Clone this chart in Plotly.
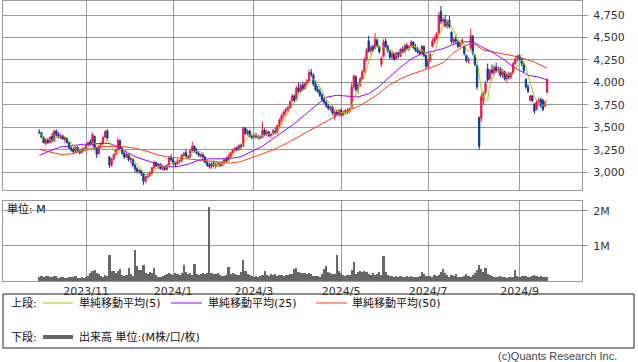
import pandas as pd
import plotly.graph_objects as go

# ---------------- data ----------------
holidays = ['2023-10-09', '2023-11-03', '2023-11-23', '2024-01-01', '2024-01-02', '2024-01-03',
            '2024-01-08', '2024-02-12', '2024-02-23', '2024-03-20', '2024-04-29', '2024-05-03',
            '2024-05-06', '2024-07-15', '2024-08-12', '2024-09-16']
dates = [d for d in pd.bdate_range('2023-09-29', '2024-09-20') if d.strftime('%Y-%m-%d') not in holidays]

open_ = [
    # Sep29-Oct
    3450, 3440, 3390, 3320, 3360, 3330, 3400, 3350, 3460, 3420, 3380, 3410, 3360, 3380, 3330, 3270, 3250, 3230, 3280, 3240, 3220, 3260,
    # Nov
    3250, 3300, 3340, 3300, 3400, 3270, 3210, 3290, 3320, 3390, 3460, 3170, 3080, 3150, 3200, 3250, 3350, 3270, 3210, 3170,
    # Dec
    3200, 3140, 3150, 3080, 3040, 3010, 3020, 2990, 2900, 2950, 2960, 2990, 3050, 3110, 3070, 3090, 3040, 3060, 3030, 3080, 3160,
    # Jan
    3140, 3100, 3090, 3130, 3120, 3190, 3220, 3180, 3170, 3240, 3290, 3240, 3210, 3180, 3200, 3170, 3110, 3080, 3060,
    # Feb
    3100, 3070, 3090, 3100, 3080, 3100, 3140, 3130, 3180, 3220, 3250, 3270, 3250, 3300, 3290, 3490, 3430, 3460, 3400,
    # Mar
    3400, 3410, 3390, 3400, 3390, 3470, 3420, 3450, 3410, 3430, 3460, 3440, 3520, 3580, 3630, 3670, 3700, 3720, 3800, 3850,
    # Apr
    3810, 3940, 3900, 3970, 3930, 3990, 4020, 4110, 4080, 3980, 3920, 3900, 3860, 3810, 3780, 3740, 3710, 3730, 3620, 3670, 3650,
    # May
    3690, 3640, 3670, 3680, 3670, 3720, 3950, 4060, 3920, 3970, 4040, 4120, 4250, 4460, 4350, 4400, 4380, 4470, 4400, 4200, 4290,
    # Jun
    4460, 4400, 4350, 4280, 4320, 4260, 4330, 4290, 4370, 4340, 4410, 4380, 4410, 4450, 4390, 4360, 4340, 4320, 4400, 4300,
    # Jul
    4180, 4240, 4400, 4460, 4490, 4550, 4790, 4680, 4700, 4630, 4690, 4560, 4450, 4480, 4450, 4400, 4440, 4400, 4300, 4240, 4380, 4510,
    # Aug
    4300, 4190, 3610, 3600, 3800, 3890, 4150, 4040, 4140, 4110, 4170, 4130, 4150, 4080, 4120, 4040, 4090, 4060, 4100, 4210, 4270,
    # Sep
    4300, 4260, 4200, 4030, 3950, 3800, 3850, 3760, 3700, 3780, 3810, 3800, 3740, 3890,
]
high = [
    3480, 3450, 3400, 3370, 3380, 3400, 3440, 3470, 3480, 3450, 3430, 3420, 3400, 3390, 3340, 3290, 3280, 3290, 3290, 3260, 3270, 3280,
    3310, 3340, 3370, 3440, 3410, 3280, 3300, 3340, 3400, 3470, 3480, 3180, 3160, 3210, 3260, 3380, 3360, 3290, 3230, 3220,
    3210, 3170, 3160, 3100, 3060, 3040, 3030, 3000, 2960, 2990, 3010, 3060, 3130, 3120, 3100, 3100, 3080, 3070, 3090, 3180, 3200,
    3160, 3120, 3150, 3140, 3200, 3230, 3260, 3200, 3260, 3340, 3300, 3270, 3230, 3210, 3220, 3180, 3130, 3110, 3120,
    3130, 3110, 3120, 3110, 3120, 3150, 3170, 3200, 3230, 3260, 3280, 3290, 3310, 3320, 3510, 3500, 3480, 3470, 3420,
    3430, 3440, 3420, 3410, 3560, 3490, 3470, 3460, 3440, 3480, 3500, 3530, 3600, 3650, 3690, 3720, 3740, 3800, 3870, 3870,
    3960, 4000, 3990, 4010, 4000, 4040, 4140, 4150, 4100, 4010, 3960, 3930, 3880, 3840, 3800, 3760, 3740, 3740, 3690, 3700, 3700,
    3710, 3690, 3700, 3710, 3720, 4000, 4090, 4080, 4000, 4060, 4140, 4280, 4380, 4520, 4410, 4420, 4550, 4490, 4410, 4290, 4480,
    4490, 4420, 4370, 4340, 4330, 4340, 4340, 4380, 4400, 4430, 4440, 4420, 4470, 4460, 4430, 4400, 4360, 4420, 4410, 4310,
    4260, 4330, 4490, 4520, 4560, 4780, 4850, 4730, 4750, 4700, 4740, 4570, 4500, 4520, 4470, 4450, 4490, 4420, 4310, 4280, 4600, 4530,
    4320, 4200, 3620, 3880, 3900, 4020, 4210, 4150, 4200, 4190, 4220, 4180, 4170, 4150, 4130, 4110, 4120, 4120, 4230, 4280, 4310,
    4310, 4270, 4220, 4050, 3980, 3860, 3860, 3770, 3800, 3830, 3830, 3820, 3800, 4050,
]
low = [
    3430, 3380, 3320, 3300, 3320, 3320, 3330, 3340, 3400, 3380, 3370, 3360, 3330, 3320, 3260, 3230, 3200, 3220, 3230, 3200, 3210, 3230,
    3240, 3290, 3300, 3290, 3260, 3160, 3200, 3270, 3310, 3380, 3360, 3050, 3060, 3130, 3190, 3240, 3260, 3200, 3150, 3160,
    3120, 3100, 3060, 3000, 2990, 2980, 2960, 2860, 2880, 2930, 2950, 2980, 3040, 3060, 3040, 3030, 3020, 3020, 3020, 3070, 3120,
    3080, 3070, 3080, 3100, 3110, 3170, 3160, 3150, 3160, 3230, 3220, 3200, 3170, 3160, 3150, 3100, 3060, 3040, 3040,
    3060, 3040, 3060, 3060, 3060, 3090, 3110, 3120, 3160, 3200, 3230, 3240, 3240, 3260, 3280, 3420, 3410, 3390, 3370,
    3370, 3380, 3360, 3370, 3380, 3400, 3400, 3390, 3380, 3410, 3420, 3430, 3500, 3560, 3610, 3640, 3680, 3710, 3780, 3780,
    3800, 3880, 3890, 3910, 3920, 3960, 4010, 4060, 3960, 3900, 3880, 3840, 3790, 3760, 3720, 3690, 3680, 3640, 3580, 3630, 3620,
    3620, 3620, 3640, 3650, 3660, 3710, 3930, 3900, 3880, 3950, 4030, 4110, 4240, 4330, 4320, 4340, 4370, 4390, 4320, 4170, 4280,
    4380, 4330, 4260, 4250, 4240, 4250, 4270, 4280, 4330, 4330, 4360, 4350, 4390, 4370, 4340, 4320, 4300, 4310, 4280, 4150,
    4150, 4230, 4390, 4430, 4470, 4540, 4650, 4640, 4610, 4600, 4600, 4430, 4420, 4430, 4380, 4390, 4420, 4300, 4220, 4210, 4370, 4300,
    4180, 3920, 3250, 3560, 3750, 3870, 4000, 4020, 4090, 4080, 4110, 4100, 4060, 4050, 4020, 4000, 4030, 4040, 4090, 4190, 4230,
    4240, 4180, 4110, 3930, 3880, 3790, 3780, 3650, 3690, 3750, 3720, 3680, 3720, 3880,
]
close = [
    3440, 3390, 3330, 3360, 3330, 3390, 3350, 3460, 3420, 3390, 3410, 3370, 3390, 3330, 3270, 3250, 3230, 3280, 3240, 3220, 3260, 3250,
    3300, 3330, 3310, 3420, 3270, 3200, 3290, 3320, 3390, 3450, 3380, 3080, 3150, 3200, 3250, 3360, 3270, 3210, 3170, 3200,
    3140, 3150, 3080, 3040, 3010, 3020, 2990, 2900, 2950, 2960, 2990, 3050, 3110, 3070, 3090, 3040, 3060, 3030, 3080, 3160, 3140,
    3100, 3090, 3130, 3120, 3190, 3210, 3180, 3170, 3240, 3290, 3240, 3210, 3190, 3200, 3170, 3110, 3080, 3070, 3100,
    3080, 3090, 3100, 3080, 3100, 3140, 3130, 3180, 3220, 3250, 3270, 3250, 3300, 3280, 3490, 3430, 3460, 3400, 3390,
    3410, 3390, 3400, 3380, 3470, 3420, 3450, 3410, 3430, 3460, 3440, 3520, 3580, 3630, 3670, 3700, 3720, 3790, 3850, 3800,
    3940, 3900, 3970, 3930, 3990, 4020, 4110, 4090, 3980, 3920, 3900, 3860, 3810, 3780, 3740, 3710, 3730, 3660, 3670, 3650, 3690,
    3640, 3670, 3690, 3670, 3710, 3950, 4070, 3920, 3970, 4040, 4120, 4250, 4360, 4350, 4390, 4360, 4480, 4410, 4340, 4270, 4450,
    4400, 4350, 4280, 4320, 4260, 4330, 4290, 4370, 4350, 4410, 4380, 4400, 4450, 4390, 4360, 4340, 4320, 4400, 4300, 4180,
    4240, 4310, 4460, 4490, 4540, 4750, 4680, 4700, 4630, 4680, 4620, 4450, 4480, 4460, 4400, 4440, 4470, 4320, 4240, 4260, 4520, 4330,
    4200, 3950, 3290, 3840, 3880, 3990, 4030, 4130, 4110, 4170, 4130, 4150, 4080, 4120, 4040, 4090, 4060, 4100, 4210, 4260, 4290,
    4260, 4210, 4130, 3950, 3900, 3850, 3800, 3680, 3780, 3800, 3740, 3700, 3780, 4030,
]
volume_m = [
    0.12, 0.14, 0.11, 0.13, 0.15, 0.12, 0.10, 0.14, 0.13, 0.09, 0.11, 0.10, 0.08, 0.09, 0.12, 0.10, 0.11, 0.13, 0.09, 0.08, 0.10, 0.09,
    0.12, 0.15, 0.22, 0.28, 0.31, 0.24, 0.20, 0.13, 0.12, 0.17, 0.14, 0.74, 0.29, 0.29, 0.22, 0.29, 0.33, 0.18, 0.15, 0.16,
    0.36, 0.20, 0.14, 0.89, 0.42, 0.30, 0.30, 0.46, 0.24, 0.20, 0.27, 0.22, 0.36, 0.16, 0.12, 0.10, 0.13, 0.16, 0.20, 0.23, 0.21,
    0.18, 0.22, 0.20, 0.17, 0.22, 0.46, 0.25, 0.20, 0.22, 0.18, 0.49, 0.20, 0.17, 0.20, 0.22, 0.19, 0.24, 2.10, 0.24,
    0.20, 0.19, 0.24, 0.18, 0.14, 0.13, 0.16, 0.41, 0.20, 0.22, 0.20, 0.17, 0.18, 0.27, 0.60, 0.28, 0.20, 0.17, 0.15,
    0.12, 0.13, 0.11, 0.14, 0.18, 0.29, 0.17, 0.15, 0.20, 0.16, 0.19, 0.15, 0.18, 0.16, 0.14, 0.17, 0.16, 0.19, 0.21, 0.35,
    0.38, 0.26, 0.24, 0.22, 0.23, 0.20, 0.22, 0.21, 0.14, 0.13, 0.15, 0.12, 0.20, 0.33, 0.43, 0.25, 0.22, 0.20, 0.21, 0.74, 0.29,
    0.22, 0.16, 0.15, 0.18, 0.17, 0.30, 0.55, 0.20, 0.25, 0.29, 0.27, 0.29, 0.25, 0.20, 0.18, 0.22, 0.17, 0.19, 0.26, 0.18, 0.70,
    0.25, 0.16, 0.14, 0.13, 0.12, 0.14, 0.11, 0.13, 0.10, 0.12, 0.14, 0.11, 0.13, 0.10, 0.12, 0.11, 0.13, 0.27, 0.20, 0.14,
    0.13, 0.15, 0.12, 0.18, 0.14, 0.16, 0.25, 0.34, 0.22, 0.16, 0.12, 0.18, 0.14, 0.20, 0.12, 0.10, 0.12, 0.15, 0.20, 0.13, 0.10, 0.16,
    0.22, 0.31, 0.46, 0.35, 0.25, 0.38, 0.20, 0.16, 0.13, 0.12, 0.10, 0.11, 0.13, 0.10, 0.12, 0.09, 0.11, 0.12, 0.10, 0.30, 0.14,
    0.12, 0.13, 0.14, 0.15, 0.12, 0.11, 0.13, 0.16, 0.14, 0.12, 0.15, 0.11, 0.12, 0.10,
]
# moving-average lines (trading-day number, price)
ma25_day = [0, 5, 10, 15, 20, 25, 30, 33, 36, 40, 45, 50, 55, 60, 65, 70, 75, 80, 85, 90, 95, 100, 105, 110, 115,
            120, 125, 130, 135, 140, 145, 150, 155, 160, 165, 170, 175, 180, 185, 190, 195, 200, 204, 208, 213,
            219, 223, 230, 236, 239]
ma25_val = [3188, 3240, 3282, 3300, 3310, 3318, 3320, 3322, 3290, 3240, 3175, 3135, 3095, 3060, 3065, 3090, 3135,
            3150, 3150, 3152, 3175, 3230, 3290, 3375, 3460, 3540, 3640, 3740, 3835, 3857, 3846, 3838, 3875, 3955,
            4065, 4170, 4260, 4322, 4345, 4375, 4425, 4452, 4452, 4397, 4340, 4248, 4174, 4081, 4054, 4024]
ma50_day = [0, 5, 10, 15, 20, 25, 30, 35, 40, 45, 50, 55, 60, 65, 70, 75, 80, 85, 90, 95, 100, 105, 110, 115, 120,
            125, 130, 135, 140, 145, 150, 155, 160, 165, 170, 175, 180, 185, 190, 195, 200, 204, 209, 215, 220,
            226, 233, 239]
ma50_val = [3255, 3225, 3198, 3205, 3240, 3268, 3283, 3290, 3285, 3268, 3240, 3200, 3172, 3160, 3150, 3140, 3128,
            3113, 3103, 3120, 3165, 3210, 3250, 3305, 3370, 3430, 3500, 3565, 3630, 3685, 3730, 3800, 3880, 3975,
            4040, 4090, 4130, 4170, 4220, 4330, 4405, 4437, 4360, 4335, 4315, 4282, 4226, 4158]
price_ticks = [3000, 3250, 3500, 3750, 4000, 4250, 4500, 4750]
volume_ticks = [1, 2]
volume_tick_text = ['1M', '2M']

assert len(dates) == len(open_) == len(high) == len(low) == len(close) == len(volume_m)

# ---------------- figure ----------------
RED = '#f2164a'
BLUE = '#0b3a9c'
GRID = '#9a9a9a'
FONT = 'DejaVu Sans, Noto Sans CJK JP, sans-serif'
MA5_C, MA25_C, MA50_C = '#99cc00', '#9900ff', '#ff3d0d'

day = list(range(len(dates)))
ma5 = pd.Series(close).rolling(5, min_periods=1).mean()

# month-start ticks (every other month)
month_ticks, month_text = [], []
prev = None
for i, d in enumerate(dates):
    if prev is not None and d.month != prev and d.month % 2 == 1:
        month_ticks.append(i)
        month_text.append(f'{d.year}/{d.month}')
    prev = d.month

fig = go.Figure()
fig.add_trace(go.Candlestick(
    x=day, open=open_, high=high, low=low, close=close,
    increasing=dict(line=dict(color=RED, width=1), fillcolor=RED),
    decreasing=dict(line=dict(color=BLUE, width=1), fillcolor=BLUE),
    whiskerwidth=0, showlegend=False, xaxis='x', yaxis='y', hoverinfo='skip'))
fig.add_trace(go.Scatter(x=ma50_day, y=ma50_val, mode='lines', line=dict(color=MA50_C, width=1),
                         showlegend=False, xaxis='x', yaxis='y', hoverinfo='skip'))
fig.add_trace(go.Scatter(x=ma25_day, y=ma25_val, mode='lines', line=dict(color=MA25_C, width=1),
                         showlegend=False, xaxis='x', yaxis='y', hoverinfo='skip'))
fig.add_trace(go.Scatter(x=day, y=ma5, mode='lines', line=dict(color=MA5_C, width=1),
                         showlegend=False, xaxis='x', yaxis='y', hoverinfo='skip'))
fig.add_trace(go.Bar(x=day, y=volume_m, marker=dict(color='#666666', line=dict(width=0)),
                     width=1.0, showlegend=False, xaxis='x2', yaxis='y2', hoverinfo='skip'))

W, H = 638, 362
L, R, T, B = 3, 56, 1, 81
PW, PH = W - L - R, H - T - B


def fx(px):
    return (px - L) / PW


def fy(py):
    return (T + PH - py) / PH


XR = [-17.1, 255.4]
axis_common = dict(showline=True, mirror=True, linecolor=GRID, linewidth=1,
                   showgrid=True, gridcolor=GRID, gridwidth=1, zeroline=False)

fig.update_layout(
    width=W, height=H, margin=dict(l=L, r=R, t=T, b=B),
    paper_bgcolor='white', plot_bgcolor='white',
    font=dict(family=FONT, size=11, color='#333333'),
    bargap=0, boxgap=0.15,
    xaxis=dict(domain=[0, 1], anchor='y', range=XR, tickmode='array', tickvals=month_ticks,
               showticklabels=False, ticks='', rangeslider=dict(visible=False), **axis_common),
    yaxis=dict(domain=[fy(190.3), 1], anchor='x', side='right', range=[2800, 4906],
               tickmode='array', tickvals=price_ticks, tickformat=',d', ticks='outside', ticklen=5,
               tickcolor=GRID, ticklabelstandoff=3, tickfont=dict(size=11, color='#333333'), **axis_common),
    xaxis2=dict(domain=[0, 1], anchor='y2', range=XR, matches='x', tickmode='array', tickvals=month_ticks,
                ticktext=month_text, ticks='', tickfont=dict(size=11, color='#333333'),
                rangeslider=dict(visible=False), **axis_common),
    yaxis2=dict(domain=[0, fy(201)], anchor='x2', side='right', range=[0, 2.275],
                tickmode='array', tickvals=volume_ticks, ticktext=volume_tick_text, ticks='outside',
                ticklen=5, tickcolor=GRID, ticklabelstandoff=3, tickfont=dict(size=11, color='#333333'),
                **axis_common),
)

shapes = []
annotations = []
# legend box
shapes.append(dict(type='rect', xref='paper', yref='paper', x0=fx(3), x1=fx(634), y0=fy(348), y1=fy(294),
                   line=dict(color='#222222', width=1), fillcolor='rgba(0,0,0,0)'))
row1, row2 = 303, 337
for x0, x1, col, wdt in [(43, 73, MA5_C, 1), (171, 202, MA25_C, 1), (316, 347, MA50_C, 1), ]:
    shapes.append(dict(type='line', xref='paper', yref='paper', x0=fx(x0), x1=fx(x1), y0=fy(row1), y1=fy(row1),
                       line=dict(color=col, width=wdt)))
shapes.append(dict(type='line', xref='paper', yref='paper', x0=fx(43), x1=fx(73), y0=fy(row2), y1=fy(row2),
                   line=dict(color='#666666', width=4)))


def label(text, px, py, anchor='left', color='#111111', family=FONT):
    annotations.append(dict(text=text, xref='paper', yref='paper', x=fx(px), y=fy(py), xanchor=anchor,
                            yanchor='middle', showarrow=False, font=dict(size=11, color=color, family=family)))


label('上段:', 9, row1)
label('単純移動平均(5)', 77, row1)
label('単純移動平均(25)', 206, row1)
label('単純移動平均(50)', 350, row1)
label('下段:', 9, row2)
label('出来高 単位:(M株/口/枚)', 77, row2)
label('単位: M', 5, 209)
label('(c)Quants Research Inc.', 619, 356, anchor='right', color='#444444',
      family='Liberation Sans, Arial, sans-serif')

fig.update_layout(shapes=shapes, annotations=annotations)
fig.write_html('out.html', config={'displayModeBar': False},
               post_script="document.body.style.margin='0';document.body.style.overflow='hidden';")
